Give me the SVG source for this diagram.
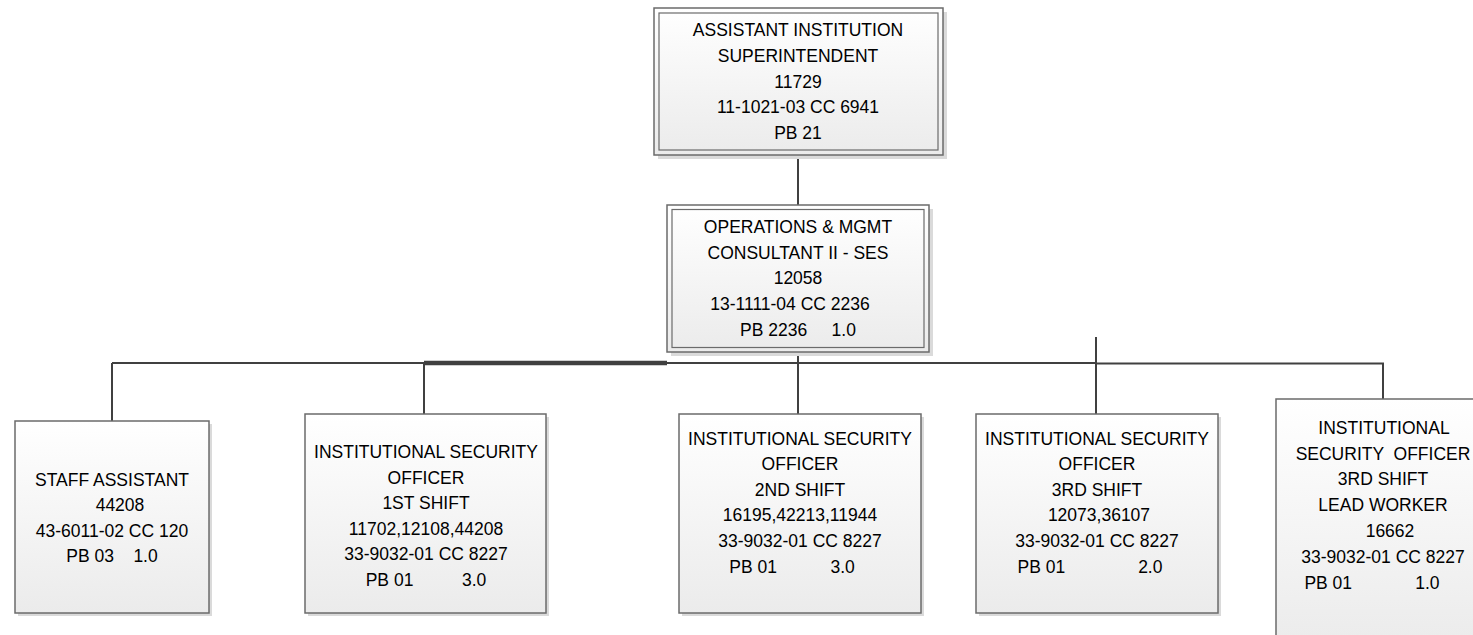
<svg xmlns="http://www.w3.org/2000/svg" width="1473" height="635" viewBox="0 0 1473 635">
<style>
.box{fill:url(#g);stroke:#6b6b6b;stroke-width:1.5}
.inner{fill:none;stroke:#6b6b6b;stroke-width:1.2}
.sh{fill:#dadada}
text{font-family:"Liberation Sans",Arial,sans-serif;font-size:17.5px;fill:#000;text-anchor:middle}
.c{stroke:#404040;stroke-width:2;fill:none}
</style>
<defs>
<linearGradient id="g" x1="0" y1="0" x2="0" y2="1">
<stop offset="0" stop-color="#ffffff"/>
<stop offset="1" stop-color="#ebebeb"/>
</linearGradient>
</defs>
<rect width="1473" height="635" fill="#fff"/>
<g id="connectors">
<line class="c" x1="798" y1="155" x2="798" y2="205"/>
<line class="c" x1="112" y1="363" x2="1096" y2="363"/>
<line class="c" x1="424" y1="363" x2="667" y2="363" style="stroke-width:4.5"/>
<polyline class="c" points="112,363 112,421"/>
<line class="c" x1="424" y1="363" x2="424" y2="414"/>
<line class="c" x1="798" y1="352" x2="798" y2="414"/>
<line class="c" x1="1096" y1="337" x2="1096" y2="414"/>
<polyline class="c" points="1096,363.5 1383,363.5 1383,399"/>
</g>
<g id="n-ais">
<rect class="sh" x="658" y="12" width="289" height="147"/>
<rect class="box" x="654" y="8" width="289" height="147"/>
<rect class="inner" x="659" y="13" width="279" height="137"/>
<text x="798" y="36">ASSISTANT INSTITUTION</text>
<text x="798" y="62">SUPERINTENDENT</text>
<text x="798" y="88">11729</text>
<text x="798" y="113">11-1021-03 CC 6941</text>
<text x="798" y="139">PB 21</text>
</g>
<g id="n-omc">
<rect class="sh" x="671" y="209" width="262" height="147"/>
<rect class="box" x="667" y="205" width="262" height="147"/>
<rect class="inner" x="672" y="209.5" width="252" height="138"/>
<text x="798" y="233">OPERATIONS &amp; MGMT</text>
<text x="798" y="259">CONSULTANT II - SES</text>
<text x="798" y="284">12058</text>
<text x="790" y="310">13-1111-04 CC 2236</text>
<text x="798" y="336" xml:space="preserve">PB 2236     1.0</text>
</g>
<g id="n-staff">
<rect class="sh" x="18" y="424" width="194" height="192"/>
<rect class="box" x="15" y="421" width="194" height="192"/>
<text x="112" y="486">STAFF ASSISTANT</text>
<text x="120" y="511">44208</text>
<text x="112" y="537">43-6011-02 CC 120</text>
<text x="112" y="562" xml:space="preserve">PB 03    1.0</text>
</g>
<g id="n-iso1">
<rect class="sh" x="308" y="417" width="241" height="199"/>
<rect class="box" x="305" y="414" width="241" height="199"/>
<text x="426" y="458">INSTITUTIONAL SECURITY</text>
<text x="426" y="484">OFFICER</text>
<text x="426" y="509">1ST SHIFT</text>
<text x="426" y="535">11702,12108,44208</text>
<text x="426" y="560">33-9032-01 CC 8227</text>
<text x="426" y="586" xml:space="preserve">PB 01          3.0</text>
</g>
<g id="n-iso2">
<rect class="sh" x="682" y="417" width="242" height="199"/>
<rect class="box" x="679" y="414" width="242" height="199"/>
<text x="800" y="445">INSTITUTIONAL SECURITY</text>
<text x="800" y="470">OFFICER</text>
<text x="800" y="496">2ND SHIFT</text>
<text x="800" y="521">16195,42213,11944</text>
<text x="800" y="547">33-9032-01 CC 8227</text>
<text x="792" y="573" xml:space="preserve">PB 01           3.0</text>
</g>
<g id="n-iso3">
<rect class="sh" x="979" y="417" width="242" height="199"/>
<rect class="box" x="976" y="414" width="242" height="199"/>
<text x="1097" y="445">INSTITUTIONAL SECURITY</text>
<text x="1097" y="470">OFFICER</text>
<text x="1097" y="496">3RD SHIFT</text>
<text x="1099" y="521">12073,36107</text>
<text x="1097" y="547">33-9032-01 CC 8227</text>
<text x="1090" y="573" xml:space="preserve">PB 01               2.0</text>
</g>
<g id="n-iso3lead">
<rect class="sh" x="1279" y="402" width="214" height="250"/>
<rect class="box" x="1276" y="399" width="214" height="250"/>
<text x="1384" y="434">INSTITUTIONAL</text>
<text x="1383" y="460" xml:space="preserve">SECURITY  OFFICER</text>
<text x="1383" y="485">3RD SHIFT</text>
<text x="1383" y="511">LEAD WORKER</text>
<text x="1390" y="537">16662</text>
<text x="1383" y="563">33-9032-01 CC 8227</text>
<text x="1372" y="589" xml:space="preserve">PB 01             1.0</text>
</g>
</svg>
